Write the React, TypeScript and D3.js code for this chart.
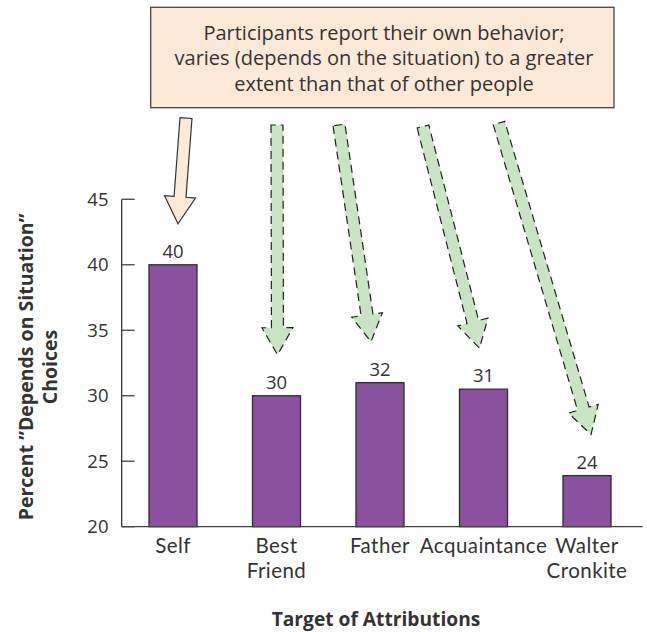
import React from "react";
import * as d3 from "d3";

const categories = ["Self", "Best Friend", "Father", "Acquaintance", "Walter Cronkite"];
const categoryLines = [["Self"], ["Best", "Friend"], ["Father"], ["Acquaintance"], ["Walter", "Cronkite"]];
const barValues = [40, 30, 31, 30.5, 23.9];
const valueLabels = ["40", "30", "32", "31", "24"];
const yTicks = [20, 25, 30, 35, 40, 45];
const calloutLines = [
  "Participants report their own behavior;",
  "varies (depends on the situation) to a greater",
  "extent than that of other people",
];
const yTitleLines = ["Percent \u201dDepends on Situation\u201d", "Choices"];
const xTitle = "Target of Attributions";

const W = 647;
const H = 632;
const FONT = "'Open Sans', Lato, sans-serif";
const LABEL_FONT = "Lato, 'Open Sans', sans-serif";

function arrowPath(sx: number, sy: number, tx: number, ty: number, w: number, hw: number, hl: number) {
  const dx = tx - sx;
  const dy = ty - sy;
  const len = Math.hypot(dx, dy);
  const ux = dx / len;
  const uy = dy / len;
  const nx = -uy;
  const ny = ux;
  const bx = tx - ux * hl;
  const by = ty - uy * hl;
  const pts: [number, number][] = [
    [sx + (nx * w) / 2, sy + (ny * w) / 2],
    [bx + (nx * w) / 2, by + (ny * w) / 2],
    [bx + (nx * hw) / 2, by + (ny * hw) / 2],
    [tx, ty],
    [bx - (nx * hw) / 2, by - (ny * hw) / 2],
    [bx - (nx * w) / 2, by - (ny * w) / 2],
    [sx - (nx * w) / 2, sy - (ny * w) / 2],
  ];
  return d3.line()(pts) + "Z";
}

export default function App() {
  const x = d3
    .scaleBand<string>()
    .domain(categories)
    .range([120, 640])
    .paddingInner(0.536)
    .paddingOuter(0.28);
  const y = d3.scaleLinear().domain([20, 45]).range([526.7, 199.3]);
  const bw = x.bandwidth();

  // arrow start points (annotation layout), tips derived from the scales
  const arrowStarts: [number, number][] = [
    [186, 118],
    [277, 125],
    [339, 125],
    [423, 126.5],
    [499, 123],
  ];
  const tipDx = [5, 1, -9, -4, 4];

  const axisX = 121.7;

  return (
    <svg
      width={W}
      height={H}
      style={{ position: "absolute", left: 0, top: 0, background: "#fff" }}
      fontFamily={FONT}
    >
      {/* callout box */}
      <rect x={150.7} y={7.3} width={463.3} height={100.4} fill="#fde9d7" stroke="#444" strokeWidth={1.3} />
      {calloutLines.map((t, i) => (
        <text key={i} x={384} y={39.5 + i * 25.7} textAnchor="middle" fontSize={20} fill="#333">
          {t}
        </text>
      ))}

      {/* y axis */}
      <line x1={axisX} x2={axisX} y1={y(45)} y2={y(20)} stroke="#333" strokeWidth={1.3} />
      {yTicks.map((t) => (
        <g key={t}>
          <line x1={axisX} x2={axisX + 13} y1={y(t)} y2={y(t)} stroke="#444" strokeWidth={1.3} />
          <text x={108.5} y={y(t) + 6.5} textAnchor="end" fontSize={18.5} fill="#333">
            {t}
          </text>
        </g>
      ))}

      {/* bars */}
      {categories.map((c, i) => (
        <g key={c}>
          <rect
            x={x(c)!}
            y={y(barValues[i])}
            width={bw}
            height={y(20) - y(barValues[i])}
            fill="#8a519f"
            stroke="#2e2e2e"
            strokeWidth={1.3}
          />
          <text x={x(c)! + bw / 2} y={y(barValues[i]) - 7} textAnchor="middle" fontSize={18.5} fill="#333">
            {valueLabels[i]}
          </text>
        </g>
      ))}

      {/* baseline */}
      <line x1={axisX} x2={642.7} y1={y(20)} y2={y(20)} stroke="#444" strokeWidth={1.3} />

      {/* category labels */}
      {categories.map((c, i) =>
        categoryLines[i].map((ln, j) => (
          <text
            key={c + j}
            x={x(c)! + bw / 2}
            y={553.3 + j * 25}
            textAnchor="middle"
            fontFamily={LABEL_FONT}
            fontSize={20.5}
            letterSpacing={0.45}
            fill="#333"
          >
            {ln}
          </text>
        ))
      )}

      {/* arrows */}
      {categories.map((c, i) => {
        const [sx, sy] = arrowStarts[i];
        const tx = x(c)! + bw / 2 + tipDx[i];
        const ty = y(barValues[i]) - 41;
        const d = arrowPath(sx, sy, tx, ty, 12, 31, 27);
        return i === 0 ? (
          <path key={c} d={d} fill="#fde9d7" stroke="#333" strokeWidth={1.2} strokeLinejoin="miter" />
        ) : (
          <path key={c} d={d} fill="#c8e4c2" stroke="#222" strokeWidth={1.2} strokeDasharray="8 5" />
        );
      })}

      {/* y title */}
      <g transform="translate(33,367) rotate(-90)">
        {yTitleLines.map((t, i) => (
          <text key={i} x={0} y={i * 24} textAnchor="middle" fontSize={19.5} fontWeight={700} fill="#333">
            {t}
          </text>
        ))}
      </g>

      {/* x title */}
      <text x={376} y={626} textAnchor="middle" fontSize={19.2} fontWeight={700} fill="#333">
        {xTitle}
      </text>
    </svg>
  );
}
